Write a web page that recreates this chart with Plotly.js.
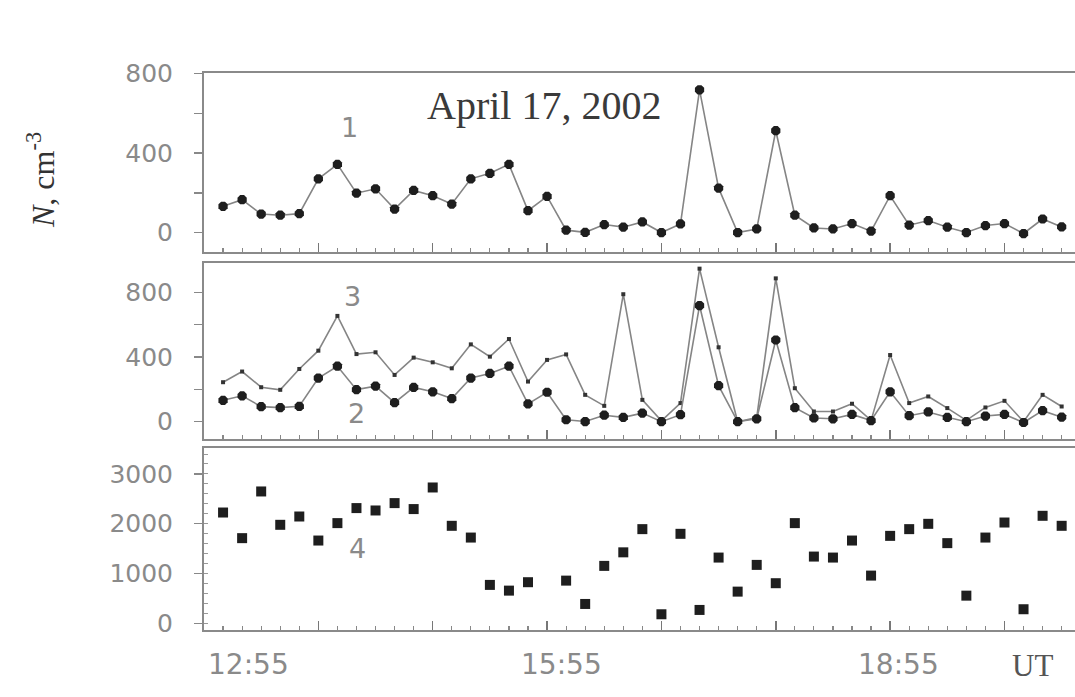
<!DOCTYPE html>
<html>
<head>
<meta charset="utf-8">
<script src="https://cdn.plot.ly/plotly-3.0.1.min.js"></script>
<style>html,body{margin:0;padding:0;background:#fff;}#chart{width:1075px;height:697px;}</style>
</head>
<body>
<div id="chart"></div>
<script>
// time of each sample (UT), April 17, 2002
const times = ['13:05','13:15','13:25','13:35','13:45','13:55','14:05','14:15','14:25','14:35','14:45','14:55',
  '15:05','15:15','15:25','15:35','15:45','15:55','16:05','16:15','16:25','16:35','16:45','16:55',
  '17:05','17:15','17:25','17:35','17:45','17:55','18:05','18:15','18:25','18:35','18:45','18:55',
  '19:05','19:15','19:25','19:35','19:45','19:55','20:05','20:15','20:25'];
// curve 1 (top panel), N in cm^-3
const series1 = [132,165,93,87,95,270,343,198,220,118,212,185,143,270,298,343,110,182,12,1,40,27,53,0,43,718,223,0,18,512,87,23,18,45,7,185,37,60,27,0,35,45,-5,68,28];
// curve 2 (middle panel, large dots)
const series2 = [132,160,93,87,95,270,343,198,220,118,212,185,143,270,298,343,110,182,12,1,40,27,53,0,43,718,223,0,18,505,87,23,18,45,7,185,37,60,27,0,35,45,-5,68,28];
// curve 3 (middle panel, small dots)
const series3 = [244,310,213,197,326,439,654,418,429,289,396,367,330,478,402,511,248,382,416,166,98,788,135,5,115,946,460,0,25,886,207,63,63,111,8,412,115,156,84,8,88,129,0,166,94];
// curve 4 (bottom panel)
const series4 = [2225,1710,2648,1978,2145,1662,2012,2314,2266,2414,2294,2728,1958,1722,771,656,825,null,857,388,1153,1425,1891,181,1797,268,1320,636,1173,805,2012,1340,1320,1662,958,1756,1891,1998,1610,555,1722,2024,282,2159,1958];
const xLabels = ['12:55','15:55','18:55'];
const day = '2002-04-17 ';

const X = times.map(t => day + t);
const W = 1075, H = 697, L = 204;
const py = p => 1 - p / H;
const px = p => (p - L) / (W - L);

const dark = '#1e1e1e', lineGray = '#858585';
const bigDot = {symbol: 'octagon', size: 10, color: dark};

const traces = [
  {x: X, y: series1, xaxis: 'x', yaxis: 'y', mode: 'lines+markers', line: {color: lineGray, width: 1.6}, marker: bigDot},
  {x: X, y: series3, xaxis: 'x2', yaxis: 'y2', mode: 'lines+markers', line: {color: lineGray, width: 1.6}, marker: {symbol: 'square', size: 4, color: '#333'}},
  {x: X, y: series2, xaxis: 'x2', yaxis: 'y2', mode: 'lines+markers', line: {color: lineGray, width: 1.6}, marker: bigDot},
  {x: X, y: series4, xaxis: 'x3', yaxis: 'y3', mode: 'markers', marker: {symbol: 'square', size: 10, color: dark}}
];

const tickFont = {family: 'DejaVu Sans, sans-serif', size: 25, color: '#8a8a8a'};
function xax(anchor) {
  return {
    type: 'date', anchor: anchor, range: [day + '12:55', day + '20:32'],
    showline: true, linecolor: '#8a8a8a', linewidth: 2, mirror: true,
    showgrid: false, zeroline: false,
    tickmode: 'linear', tick0: day + '12:55', dtick: 3600000,
    ticks: 'inside', ticklen: 9, tickwidth: 1.5, tickcolor: '#777',
    showticklabels: false,
    minor: {dtick: 600000, tick0: day + '12:55', ticks: 'inside', ticklen: 4, tickwidth: 1.2, tickcolor: '#888', showgrid: false},
    automargin: false, fixedrange: true
  };
}
function yax(range, domain, dtick, minorOpts) {
  return {
    range: range, domain: domain,
    showline: true, linecolor: '#8a8a8a', linewidth: 2,
    showgrid: false, zeroline: false,
    tickmode: 'linear', tick0: 0, dtick: dtick, tickformat: 'd',
    ticks: 'outside', ticklen: 8, tickwidth: 1.5, tickcolor: '#888',
    tickfont: tickFont, ticklabelstandoff: 16,
    minor: minorOpts,
    automargin: false, fixedrange: true
  };
}
const minorOut = {dtick: 200, tick0: 0, ticks: 'outside', ticklen: 8, tickwidth: 1.5, tickcolor: '#888', showgrid: false};
const minorIn = {dtick: 200, tick0: 0, ticks: 'inside', ticklen: 4, tickwidth: 1, tickcolor: '#999', showgrid: false};

function note(x, y, text, font, extra) {
  return Object.assign({xref: 'paper', yref: 'paper', x: px(x), y: py(y), text: text, showarrow: false,
    xanchor: 'center', yanchor: 'middle', font: font}, extra || {});
}
const labFont = {family: 'DejaVu Sans, sans-serif', size: 27, color: '#8a8a8a'};

const layout = {
  width: W, height: H,
  margin: {l: L, r: 0, t: 0, b: 0},
  paper_bgcolor: '#fff', plot_bgcolor: '#fff',
  showlegend: false,
  xaxis: xax('y'), xaxis2: xax('y2'), xaxis3: xax('y3'),
  yaxis: Object.assign(yax([-98, 805], [py(252), py(72.5)], 400, minorOut), {anchor: 'x'}),
  yaxis2: Object.assign(yax([-107, 981], [py(439), py(263)], 400, minorOut), {anchor: 'x2'}),
  yaxis3: Object.assign(yax([-135, 3521], [py(630), py(448)], 1000, minorIn), {anchor: 'x3'}),
  annotations: [
    note(544, 105, 'April 17, 2002', {family: 'Liberation Serif, serif', size: 40, color: '#3a3a3a'}),
    note(41, 180, '<i>N</i>, cm<sup>-3</sup>', {family: 'Liberation Serif, serif', size: 32, color: '#333'}, {textangle: -90}),
    note(349, 128, '1', labFont),
    note(352, 296, '3', labFont),
    note(356, 413, '2', labFont),
    note(357, 548, '4', labFont),
    note(1032, 665, 'UT', {family: 'Liberation Serif, serif', size: 31, color: '#555'})
  ].concat(xLabels.map((t, i) => ({
    xref: 'x3', yref: 'paper', x: day + t, y: py(664), text: t, showarrow: false,
    xanchor: 'center', yanchor: 'middle',
    xshift: [44, 14, 8][i], font: {family: 'DejaVu Sans, sans-serif', size: 28, color: '#8a8a8a'}
  })))
};

Plotly.newPlot('chart', traces, layout, {displayModeBar: false, staticPlot: true});
</script>
</body>
</html>
